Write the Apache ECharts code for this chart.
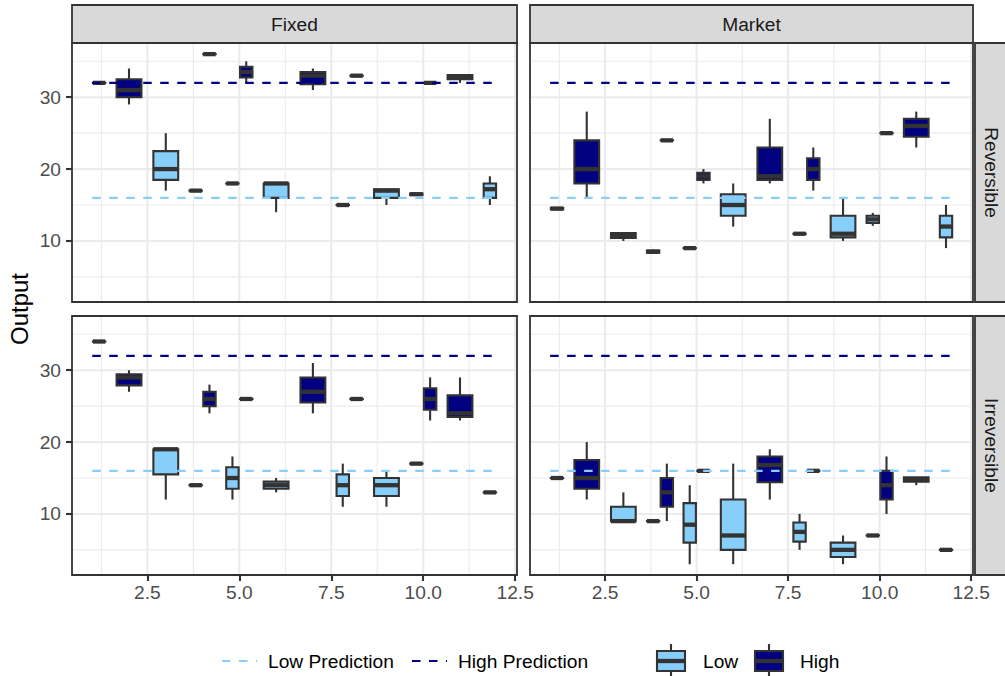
<!DOCTYPE html>
<html>
<head>
<meta charset="utf-8">
<script src="https://cdn.jsdelivr.net/npm/echarts/dist/echarts.min.js"></script>
<style>
  html, body { margin: 0; padding: 0; background: #ffffff; }
  #chart { width: 1005px; height: 676px; }
</style>
</head>
<body>
<div id="chart"></div>
<script>
// ---------------- DATA ----------------
// Facet labels
const columnLabels = ['Fixed', 'Market'];
const rowLabels = ['Reversible', 'Irreversible'];
// Axis ticks
const xTicks = [2.5, 5, 7.5, 10, 12.5];
const yTicks = [10, 20, 30];
const xMinorGrid = [1.25, 3.75, 6.25, 8.75, 11.25];
const yMinorGrid = [5, 15, 25, 35];
// Prediction lines (value, from round, to round)
const lowPrediction = 16;
const highPrediction = 32;
const predictionRounds = [1, 12];
// Box statistics per round: [round, min, q1, median, q3, max]; [round] = group present, no observations
const fixedRevLow = [
  [1], [3, 17, 18.5, 20, 22.5, 25], [4, 17, 17, 17, 17, 17], [5, 18, 18, 18, 18, 18],
  [6, 14, 16, 18, 18, 18], [8, 15, 15, 15, 15, 15], [9, 15, 16, 17, 17.2, 17.2],
  [10, 16.4, 16.4, 16.5, 16.6, 16.6], [12, 15, 16, 17.2, 18, 19]
];
const fixedRevHigh = [
  [1, 32, 32, 32, 32, 32], [2, 29, 30, 31, 32.5, 34], [4, 36, 36, 36, 36, 36],
  [5, 32, 32.75, 33.5, 34.25, 35], [7, 31, 31.8, 33, 33.5, 34], [8, 33, 33, 33, 33, 33],
  [10, 32, 32, 32, 32, 32], [11, 32, 32.5, 32.8, 33.1, 33.1], [12]
];
const marketRevLow = [
  [1], [3, 10, 10.4, 10.8, 11.1, 11.1], [4, 8.2, 8.35, 8.5, 8.65, 8.8], [5, 9, 9, 9, 9, 9],
  [6, 12, 13.5, 15, 16.5, 18], [8, 11, 11, 11, 11, 11], [9, 10, 10.5, 11, 13.5, 16],
  [10, 12.1, 12.5, 13, 13.5, 13.9], [12, 9, 10.5, 12, 13.5, 15]
];
const marketRevHigh = [
  [1, 14.4, 14.4, 14.5, 14.6, 14.6], [2, 16, 18, 20, 24, 28], [4, 24, 24, 24, 24, 24],
  [5, 18, 18.5, 19, 19.5, 20], [7, 18, 18.5, 19, 23, 27], [8, 17, 18.5, 20, 21.5, 23],
  [10, 25, 25, 25, 25, 25], [11, 23, 24.5, 26, 27, 28], [12]
];
const fixedIrrLow = [
  [1], [3, 12, 15.5, 19, 19, 19], [4, 14, 14, 14, 14, 14], [5, 12, 13.5, 15, 16.5, 18],
  [6, 13, 13.5, 14, 14.5, 15], [8, 11, 12.5, 14, 15.5, 17], [9, 11, 12.5, 14, 15, 16],
  [10, 17, 17, 17, 17, 17], [12, 13, 13, 13, 13, 13]
];
const fixedIrrHigh = [
  [1, 34, 34, 34, 34, 34], [2, 27, 27.9, 29, 29.45, 30], [4, 24, 25, 26, 27, 28],
  [5, 26, 26, 26, 26, 26], [7, 24, 25.5, 27, 29, 31], [8, 26, 26, 26, 26, 26],
  [10, 23, 24.5, 26, 27.5, 29], [11, 23, 23.5, 24, 26.5, 29], [12]
];
const marketIrrLow = [
  [1], [3, 9, 9, 9, 11, 13], [4, 9, 9, 9, 9, 9], [5, 3, 6, 8.5, 11.5, 14],
  [6, 3, 5, 7, 12, 17], [8, 5, 6.15, 7.5, 8.8, 10], [9, 3, 4, 5, 6, 7],
  [10, 7, 7, 7, 7, 7], [12, 5, 5, 5, 5, 5]
];
const marketIrrHigh = [
  [1, 15, 15, 15, 15, 15], [2, 12, 13.5, 15, 17.5, 20], [4, 9, 11, 13, 15, 17],
  [5, 16, 16, 16, 16, 16], [7, 12, 14.4, 16.8, 18, 19], [8, 16, 16, 16, 16, 16],
  [10, 10, 12, 14, 16, 18], [11, 14, 14.5, 14.8, 15.1, 15.1], [12]
];

// ---------------- LAYOUT / STYLE ----------------
const FONT = "'Liberation Sans', Arial, Helvetica, sans-serif";
const LOW_COLOR = '#87CEFA';
const HIGH_COLOR = '#000080';
const INK = '#333333';
const GRID_COLOR = '#EBEBEB';
const DODGE = 0.75;
const BOX_W = 0.675;
const X_RANGE = [0.45, 12.55];
const Y_RANGE = [1.5, 37.55];

const panelRects = [
  { left: 72, top: 43, width: 445, height: 259 },   // Fixed / Reversible
  { left: 530, top: 43, width: 443, height: 259 },  // Market / Reversible
  { left: 72, top: 316, width: 445, height: 259 },  // Fixed / Irreversible
  { left: 530, top: 316, width: 443, height: 259 }  // Market / Irreversible
];
const panelData = [
  { low: fixedRevLow, high: fixedRevHigh, col: 0, row: 0 },
  { low: marketRevLow, high: marketRevHigh, col: 1, row: 0 },
  { low: fixedIrrLow, high: fixedIrrHigh, col: 0, row: 1 },
  { low: marketIrrLow, high: marketIrrHigh, col: 1, row: 1 }
];

function dodgeBoxes(arr, otherArr, side) {
  const otherRounds = new Set(otherArr.map(d => d[0]));
  return arr.filter(d => d.length === 6).map(d => {
    const dodged = otherRounds.has(d[0]);
    const x = dodged ? d[0] + side * DODGE / 4 : d[0];
    const w = dodged ? BOX_W / 2 : BOX_W;
    return [x, w, d[1], d[2], d[3], d[4], d[5]];
  });
}

function boxRenderer(fill) {
  return function (params, api) {
    const x = api.value(0), w = api.value(1);
    const mn = api.value(2), q1 = api.value(3), md = api.value(4), q3 = api.value(5), mx = api.value(6);
    const cx = api.coord([x, md])[0];
    const half = api.size([w, 0])[0] / 2;
    const yMin = api.coord([x, mn])[1], yQ1 = api.coord([x, q1])[1], yMd = api.coord([x, md])[1];
    const yQ3 = api.coord([x, q3])[1], yMax = api.coord([x, mx])[1];
    const children = [];
    if (mx > q3) children.push({ type: 'line', shape: { x1: cx, y1: yQ3, x2: cx, y2: yMax }, style: { stroke: INK, lineWidth: 2.1 } });
    if (mn < q1) children.push({ type: 'line', shape: { x1: cx, y1: yQ1, x2: cx, y2: yMin }, style: { stroke: INK, lineWidth: 2.1 } });
    children.push({ type: 'rect', shape: { x: cx - half, y: yQ3, width: 2 * half, height: Math.max(yQ1 - yQ3, 0.01) },
      style: { fill: fill, stroke: INK, lineWidth: 2.1 } });
    children.push({ type: 'line', shape: { x1: cx - half, y1: yMd, x2: cx + half, y2: yMd }, style: { stroke: INK, lineWidth: 4.3 } });
    return { type: 'group', children: children };
  };
}

function gridRenderer(params, api) {
  const v = api.value(0), kind = api.value(1);
  const cs = params.coordSys;
  if (kind < 2) {
    const y = api.coord([6, v])[1];
    return { type: 'line', shape: { x1: cs.x, y1: y, x2: cs.x + cs.width, y2: y },
      style: { stroke: GRID_COLOR, lineWidth: kind === 1 ? 2.1 : 1.1 } };
  }
  const x = api.coord([v, 10])[0];
  return { type: 'line', shape: { x1: x, y1: cs.y, x2: x, y2: cs.y + cs.height },
    style: { stroke: GRID_COLOR, lineWidth: kind === 3 ? 2.1 : 1.1 } };
}

const gridLineData = []
  .concat(yMinorGrid.map(v => [v, 0]))
  .concat(yTicks.map(v => [v, 1]))
  .concat(xMinorGrid.map(v => [v, 2]))
  .concat(xTicks.map(v => [v, 3]));

const grids = [], xAxes = [], yAxes = [], series = [], graphics = [];

panelRects.forEach((r, i) => {
  const p = panelData[i];
  grids.push({ left: r.left, top: r.top, width: r.width, height: r.height, show: false, containLabel: false });
  const bottomRow = p.row === 1, leftCol = p.col === 0;
  xAxes.push({
    gridIndex: i, type: 'value', min: X_RANGE[0], max: X_RANGE[1],
    axisLine: { show: false }, splitLine: { show: false },
    axisTick: { show: bottomRow, customValues: xTicks, length: 6, lineStyle: { color: INK, width: 2.1 } },
    axisLabel: { show: bottomRow, customValues: xTicks, formatter: v => Number(v).toFixed(1),
      color: '#4D4D4D', fontSize: 19.2, fontFamily: FONT, margin: 8 }
  });
  yAxes.push({
    gridIndex: i, type: 'value', min: Y_RANGE[0], max: Y_RANGE[1],
    axisLine: { show: false }, splitLine: { show: false },
    axisTick: { show: leftCol, customValues: yTicks, length: 6, lineStyle: { color: INK, width: 2.1 } },
    axisLabel: { show: leftCol, customValues: yTicks, color: '#4D4D4D', fontSize: 19.2, fontFamily: FONT, margin: 11 }
  });
  series.push({
    type: 'custom', name: 'grid' + i, xAxisIndex: i, yAxisIndex: i, z: 1, silent: true,
    renderItem: gridRenderer, data: gridLineData, encode: { x: 0, y: 1 }
  });
  series.push({
    type: 'custom', name: 'Low', xAxisIndex: i, yAxisIndex: i, z: 2,
    renderItem: boxRenderer(LOW_COLOR), data: dodgeBoxes(p.low, p.high, -1),
    encode: { x: 0, y: [2, 3, 4, 5, 6] }
  });
  series.push({
    type: 'custom', name: 'High', xAxisIndex: i, yAxisIndex: i, z: 2,
    renderItem: boxRenderer(HIGH_COLOR), data: dodgeBoxes(p.high, p.low, 1),
    encode: { x: 0, y: [2, 3, 4, 5, 6] }
  });
  series.push({
    type: 'line', name: 'Low Prediction', xAxisIndex: i, yAxisIndex: i, z: 3, symbol: 'none', silent: true,
    data: predictionRounds.map(x => [x, lowPrediction]),
    lineStyle: { color: LOW_COLOR, width: 2.1, type: [8.5, 8.5] }
  });
  series.push({
    type: 'line', name: 'High Prediction', xAxisIndex: i, yAxisIndex: i, z: 3, symbol: 'none', silent: true,
    data: predictionRounds.map(x => [x, highPrediction]),
    lineStyle: { color: HIGH_COLOR, width: 2.1, type: [8.5, 8.5] }
  });
  // panel border
  graphics.push({ type: 'rect', z: 100, silent: true,
    shape: { x: r.left, y: r.top, width: r.width, height: r.height },
    style: { fill: 'none', stroke: INK, lineWidth: 1.8 } });
});

// Strips: top (columns)
[0, 1].forEach(c => {
  const r = panelRects[c];
  graphics.push({ type: 'rect', z: 100, silent: true,
    shape: { x: r.left, y: 5, width: r.width, height: 38 },
    style: { fill: '#D9D9D9', stroke: INK, lineWidth: 1.8 } });
  graphics.push({ type: 'text', z: 101, silent: true, x: r.left + r.width / 2, y: 24,
    style: { text: columnLabels[c], font: '19.2px ' + FONT, fill: '#1A1A1A', align: 'center', verticalAlign: 'middle' } });
});
// Strips: right (rows)
[0, 1].forEach(rw => {
  const r = panelRects[rw * 2 + 1];
  graphics.push({ type: 'rect', z: 100, silent: true,
    shape: { x: r.left + r.width + 2, y: r.top, width: 38, height: r.height },
    style: { fill: '#D9D9D9', stroke: INK, lineWidth: 1.8 } });
  graphics.push({ type: 'text', z: 101, silent: true, x: 991, y: r.top + r.height / 2, rotation: -Math.PI / 2,
    style: { text: rowLabels[rw], font: '19.2px ' + FONT, fill: '#1A1A1A', align: 'center', verticalAlign: 'middle' } });
});
// Y axis title
graphics.push({ type: 'text', z: 101, silent: true, x: 19, y: 309, rotation: Math.PI / 2,
  style: { text: 'Output', font: '24px ' + FONT, fill: '#000000', align: 'center', verticalAlign: 'middle' } });

// Legend
const LEG_Y = 661;
function legendDash(x1, color) {
  graphics.push({ type: 'line', z: 101, silent: true, shape: { x1: x1, y1: LEG_Y, x2: x1 + 35, y2: LEG_Y },
    style: { stroke: color, lineWidth: 2.1, lineDash: [8.5, 8.5] } });
}
function legendBox(cx, color) {
  graphics.push({ type: 'line', z: 101, silent: true, shape: { x1: cx, y1: 644, x2: cx, y2: 651 }, style: { stroke: INK, lineWidth: 2.1 } });
  graphics.push({ type: 'line', z: 101, silent: true, shape: { x1: cx, y1: 671, x2: cx, y2: 678 }, style: { stroke: INK, lineWidth: 2.1 } });
  graphics.push({ type: 'rect', z: 101, silent: true, shape: { x: cx - 14, y: 651, width: 28, height: 20 },
    style: { fill: color, stroke: INK, lineWidth: 2.1 } });
  graphics.push({ type: 'line', z: 102, silent: true, shape: { x1: cx - 14, y1: LEG_Y, x2: cx + 14, y2: LEG_Y }, style: { stroke: INK, lineWidth: 4.3 } });
}
function legendText(x, t) {
  graphics.push({ type: 'text', z: 101, silent: true, x: x, y: LEG_Y,
    style: { text: t, font: '19.2px ' + FONT, fill: '#000000', align: 'left', verticalAlign: 'middle' } });
}
legendDash(222, LOW_COLOR); legendText(268, 'Low Prediction');
legendDash(412, HIGH_COLOR); legendText(458, 'High Prediction');
legendBox(671, LOW_COLOR); legendText(703, 'Low');
legendBox(769, HIGH_COLOR); legendText(800, 'High');

const chart = echarts.init(document.getElementById('chart'), null, { renderer: 'svg', width: 1005, height: 676 });
chart.setOption({
  animation: false,
  backgroundColor: '#ffffff',
  grid: grids,
  xAxis: xAxes,
  yAxis: yAxes,
  series: series,
  graphic: { elements: graphics }
});
</script>
</body>
</html>
